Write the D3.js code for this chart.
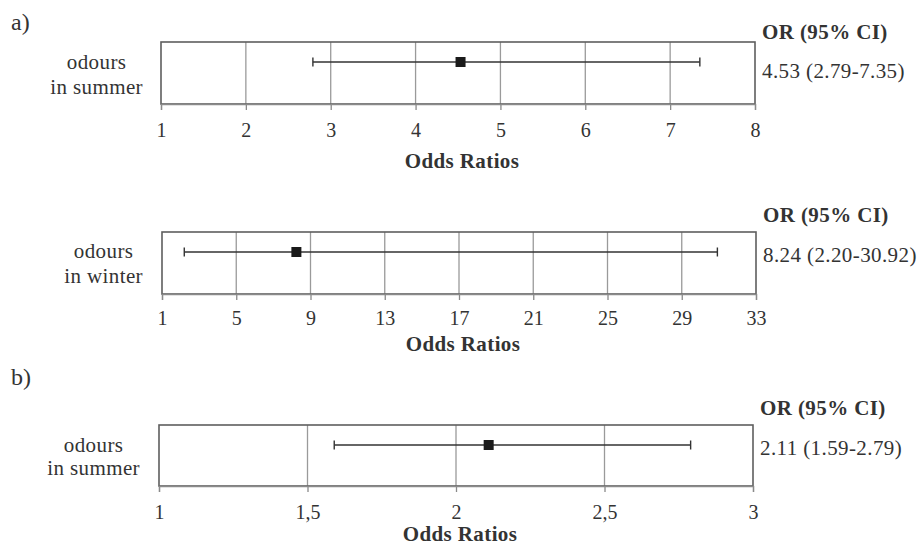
<!DOCTYPE html>
<html>
<head>
<meta charset="utf-8">
<script src="https://cdn.jsdelivr.net/npm/d3@7"></script>
<style>
  html, body { margin: 0; padding: 0; background: #fff; }
  svg { display: block; }
  text { font-family: "Liberation Serif", "DejaVu Serif", serif; fill: #333; }
</style>
</head>
<body>
<svg id="chart" width="922" height="545"></svg>
<script>
// ---------------- data ----------------
const panelLetters = ["a)", "", "b)"];
const outcomeLines = [["odours", "in summer"], ["odours", "in winter"], ["odours", "in summer"]];
const orValues = [4.53, 8.24, 2.11];
const ciLower = [2.79, 2.20, 1.59];
const ciUpper = [7.35, 30.92, 2.79];
const axisDomains = [[1, 8], [1, 33], [1, 3]];
const axisTicks = [[1, 2, 3, 4, 5, 6, 7, 8], [1, 5, 9, 13, 17, 21, 25, 29, 33], [1, 1.5, 2, 2.5, 3]];
const tickLabels = [["1", "2", "3", "4", "5", "6", "7", "8"],
                    ["1", "5", "9", "13", "17", "21", "25", "29", "33"],
                    ["1", "1,5", "2", "2,5", "3"]];
const orLabels = ["4.53 (2.79-7.35)", "8.24 (2.20-30.92)", "2.11 (1.59-2.79)"];
const headerText = "OR (95% CI)";
const axisTitle = "Odds Ratios";

// ---------------- layout ----------------
const layout = [
  { x0: 161, x1: 755, y0: 42, y1: 104, letterY: 22, labRight: 143, labY: [62, 87], tickY: 130, titleY: 161, headY: 32, valY: 71 },
  { x0: 162, x1: 756, y0: 232, y1: 294, letterY: null, labRight: 143, labY: [251, 276], tickY: 318, titleY: 344, headY: 215, valY: 255 },
  { x0: 159, x1: 753, y0: 425, y1: 486, letterY: 377, labRight: 140, labY: [445, 468], tickY: 512, titleY: 534, headY: 408, valY: 448 }
];

const FS = "21px";
const LS = "0.4px";
const svg = d3.select("#chart");

layout.forEach((L, i) => {
  const g = svg.append("g");
  const x = d3.scaleLinear().domain(axisDomains[i]).range([L.x0, L.x1]);
  const barY = L.y0 + 20;

  // letter
  if (panelLetters[i]) {
    g.append("text").attr("x", 11).attr("y", L.letterY)
      .attr("dominant-baseline", "central")
      .style("font-size", "24px").text(panelLetters[i]);
  }

  // gridlines (interior ticks)
  const ticks = axisTicks[i];
  g.selectAll(".grid").data(ticks.slice(1, -1)).enter().append("line")
    .attr("x1", d => x(d)).attr("x2", d => x(d))
    .attr("y1", L.y0).attr("y2", L.y1)
    .attr("stroke", "#9a9a9a").attr("stroke-width", 1.3);

  // frame
  g.append("rect").attr("x", L.x0).attr("y", L.y0)
    .attr("width", L.x1 - L.x0).attr("height", L.y1 - L.y0)
    .attr("fill", "none").attr("stroke", "#5e5e5e").attr("stroke-width", 1.6);

  // axis
  const axis = d3.axisBottom(x).tickValues(ticks)
    .tickFormat((d, j) => tickLabels[i][j]).tickSize(6).tickPadding(0);
  const ag = g.append("g").attr("transform", `translate(0,${L.y1})`).call(axis);
  ag.select(".domain").attr("stroke", "#8a8a8a").attr("stroke-width", 1.3);
  ag.selectAll(".tick line").attr("stroke", "#8a8a8a").attr("stroke-width", 1.3);
  ag.selectAll(".tick text")
    .attr("y", L.tickY - L.y1).attr("dy", null)
    .attr("dominant-baseline", "central")
    .style("font-family", "'Liberation Serif', serif")
    .style("font-size", "20px").attr("fill", "#333");

  // axis title
  g.append("text").attr("x", (L.x0 + L.x1) / 2 + 4).attr("y", L.titleY)
    .attr("text-anchor", "middle").attr("dominant-baseline", "central")
    .style("font-size", FS).style("letter-spacing", LS)
    .style("font-weight", "bold").text(axisTitle);

  // outcome label (block right-aligned, lines centered in block)
  const lab = g.append("g");
  const lines = lab.selectAll("text").data(outcomeLines[i]).enter().append("text")
    .attr("y", (d, j) => L.labY[j]).attr("dominant-baseline", "central")
    .attr("text-anchor", "middle").style("font-size", FS).style("letter-spacing", LS)
    .text(d => d);
  let maxW = 0;
  lines.each(function () { maxW = Math.max(maxW, this.getComputedTextLength()); });
  lines.attr("x", L.labRight - maxW / 2);

  // CI line
  g.append("line").attr("x1", x(ciLower[i])).attr("x2", x(ciUpper[i]))
    .attr("y1", barY).attr("y2", barY).attr("stroke", "#333").attr("stroke-width", 1.4);
  [ciLower[i], ciUpper[i]].forEach(v => {
    g.append("line").attr("x1", x(v)).attr("x2", x(v))
      .attr("y1", barY - 4.5).attr("y2", barY + 4.5)
      .attr("stroke", "#333").attr("stroke-width", 1.4);
  });
  // point
  const s = 10;
  g.append("rect").attr("x", x(orValues[i]) - s / 2).attr("y", barY - s / 2)
    .attr("width", s).attr("height", s).attr("fill", "#1a1a1a");

  // header & value
  g.append("text").attr("x", L.x1 + 7).attr("y", L.headY)
    .attr("dominant-baseline", "central")
    .style("font-size", FS).style("letter-spacing", LS)
    .style("font-weight", "bold").text(headerText);
  g.append("text").attr("x", L.x1 + 7).attr("y", L.valY)
    .attr("dominant-baseline", "central")
    .style("font-size", FS).style("letter-spacing", LS).text(orLabels[i]);
});
</script>
</body>
</html>
